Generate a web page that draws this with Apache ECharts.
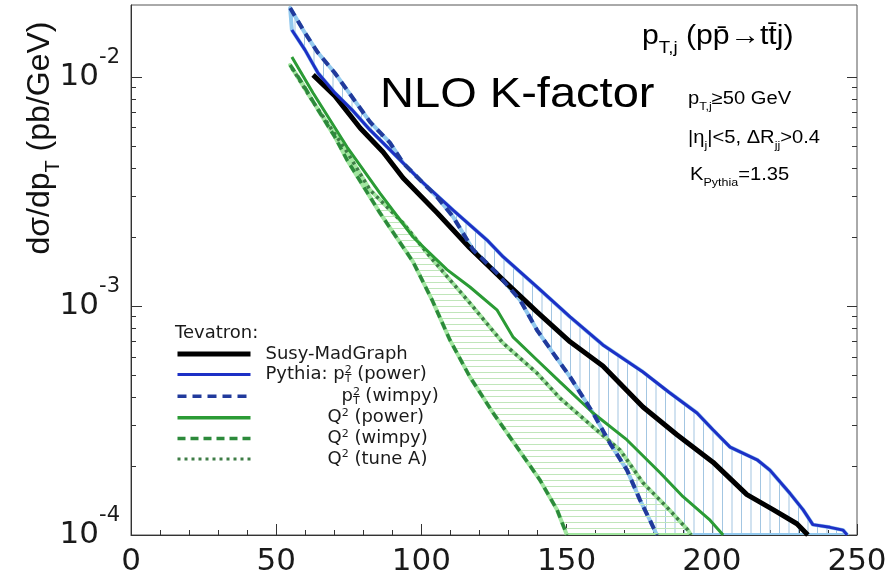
<!DOCTYPE html>
<html>
<head>
<meta charset="utf-8">
<script src="https://cdn.jsdelivr.net/npm/echarts@6/dist/echarts.min.js"></script>
<style>
  html, body { margin: 0; padding: 0; background: #fff; }
  #chart { width: 896px; height: 577px; }
</style>
</head>
<body>
<div id="chart"></div>
<script>
// jet pT spectrum, NLO K-factor comparison
const ptMad = [62.7, 70.2, 78.9, 86.8, 93.7, 105.4, 116.7, 128.1, 139.8, 151.2, 162.5, 176.3, 188.0, 200.4, 212.1, 221.1, 229.3, 233.1]
const sigMad = [0.0102, 0.00826, 0.00598, 0.0047, 0.00362, 0.00255, 0.00179, 0.0013, 0.000942, 0.000697, 0.000547, 0.000362, 0.000274, 0.000208, 0.00015, 0.000129, 0.000112, 0.0001]

const ptPyPow = [55.4, 59.9, 64.4, 70.2, 76.1, 82.3, 89.2, 99.5, 110.9, 122.6, 128.1, 139.8, 151.2, 162.5, 176.3, 185.6, 194.9, 200.4, 206.3, 215.6, 220.0, 226.9, 231.4, 234.8, 240.7, 245.2, 246.6]
const sigPyPow = [0.01603, 0.01312, 0.0104, 0.00851, 0.00718, 0.00587, 0.0048, 0.00355, 0.00262, 0.00194, 0.00164, 0.00121, 0.000895, 0.000676, 0.000515, 0.000417, 0.000341, 0.000288, 0.000242, 0.000213, 0.000192, 0.000152, 0.000129, 0.000111, 0.000108, 0.000105, 0.0001]

const ptPyWim = [54.8, 59.9, 64.4, 70.2, 76.1, 82.3, 89.2, 93.7, 105.4, 110.9, 117.8, 126.0, 134.0, 139.8, 145.3, 151.2, 159.1, 164.9, 170.8, 175.3, 178.7, 181.1]
const sigPyWim = [0.02, 0.01556, 0.01274, 0.0104, 0.00818, 0.00636, 0.00515, 0.00421, 0.00299, 0.00245, 0.00176, 0.00139, 0.00106, 0.000785, 0.000624, 0.00049, 0.000341, 0.000252, 0.000192, 0.000142, 0.000116, 0.0001]

const ptQPow = [55.4, 62.7, 74.4, 85.7, 97.1, 108.8, 116.7, 126.0, 131.5, 139.8, 147.7, 159.1, 170.8, 182.2, 190.1, 199.4, 203.9]
const sigQPow = [0.01222, 0.00851, 0.00494, 0.00311, 0.002, 0.00144, 0.00121, 0.000962, 0.000733, 0.000581, 0.000466, 0.000341, 0.00026, 0.000187, 0.000147, 0.000116, 0.0001]

const ptQWim = [54.8, 58.9, 64.4, 70.2, 74.4, 85.7, 97.1, 103.7, 109.8, 116.7, 124.7, 132.9, 140.8, 146.7, 150.1]
const sigQWim = [0.01127, 0.00942, 0.00718, 0.00547, 0.00434, 0.00255, 0.00156, 0.00106, 0.000711, 0.00049, 0.000341, 0.000242, 0.000174, 0.000129, 0.0001]

const ptQTune = [55.4, 62.7, 74.4, 82.3, 93.7, 103.0, 116.7, 128.1, 139.8, 147.7, 159.1, 168.4, 176.3, 184.6, 191.8, 192.8]
const sigQTune = [0.01094, 0.00778, 0.0047, 0.00321, 0.0023, 0.00164, 0.00103, 0.000689, 0.000509, 0.000396, 0.000296, 0.000235, 0.000169, 0.000132, 0.000105, 0.0001]

const yMajor = [1e-4, 1e-3, 1e-2]
const yMinor = [2e-4, 3e-4, 4e-4, 5e-4, 6e-4, 7e-4, 8e-4, 9e-4, 2e-3, 3e-3, 4e-3, 5e-3, 6e-3, 7e-3, 8e-3, 9e-3]
const yMin = 1e-4
const yMax = 0.0206

const LBL = 'DejaVu Sans'
const TXT = 'Liberation Sans, Arial, sans-serif'

function zip (xs, ys) {
  return xs.map((x, i) => [x, ys[i]])
}

// small canvas tiles used as hatch fills
function hatch (w, h, color, vertical) {
  let c = document.createElement('canvas')
  c.width = w
  c.height = h
  let g = c.getContext('2d')
  g.fillStyle = color
  if (vertical) {
    g.fillRect(0, 0, 1, h)
    g.fillRect(9.5, 0, 1, h)
  } else {
    g.fillRect(0, 0, w, 1)
  }
  return c
}

function band (upX, upY, loX, loY, tile, edge) {
  return {
    type: 'custom',
    silent: true,
    clip: true,
    z: 1,
    data: [[upX[0], upY[0]]],
    renderItem: function (params, api) {
      let pts = []
      upX.forEach((x, i) => pts.push(api.coord([x, upY[i]])))
      for (let i = loX.length - 1; i >= 0; i--) pts.push(api.coord([loX[i], loY[i]]))
      return {
        type: 'polygon',
        shape: { points: pts },
        style: { fill: { image: tile, repeat: 'repeat' }, stroke: edge, lineWidth: 4, lineJoin: 'round' }
      }
    }
  }
}

function curve (name, xs, ys, color, width, dash, z) {
  return {
    name: name,
    type: 'line',
    data: zip(xs, ys),
    symbol: 'none',
    z: z,
    lineStyle: { color: color, width: width, type: dash },
    itemStyle: { color: color },
    emphasis: { disabled: true }
  }
}

// legend rows: text (rich) and line width of the sample
const legendRows = [
  ['Susy-MadGraph', '{lead| }{t|Susy-MadGraph}', 5],
  ['Pythia: pT2 (power)', '{lead| }{t|Pythia: p}{sup|2}{sub|T}{t| (power)}', 3],
  ['pT2 (wimpy)', '{pad3| }{t|p}{sup|2}{sub|T}{t| (wimpy)}', 3.5],
  ['Q2 (power)', '{pad| }{t|Q}{sup2|2}{t| (power)}', 3.5],
  ['Q2 (wimpy)', '{pad| }{t|Q}{sup2|2}{t| (wimpy)}', 3.5],
  ['Q2 (tune A)', '{pad| }{t|Q}{sup2|2}{t| (tune A)}', 3]
]
const legendText = {}
legendRows.forEach(r => { legendText[r[0]] = r[1] })

function label (x, y, text, size, extra) {
  return {
    type: 'text',
    x: x,
    y: y,
    scaleX: 1.12,
    style: Object.assign({
      text: text,
      fontFamily: TXT,
      fontSize: size,
      fill: '#000',
      verticalAlign: 'middle',
      align: 'left'
    }, extra || {})
  }
}

function subRich (size) {
  return {
    m: { fontFamily: TXT, fontSize: size, lineHeight: size * 1.5 },
    sub: { fontFamily: TXT, fontSize: size * 0.62, lineHeight: size * 0.62, verticalAlign: 'bottom' },
    sup: { fontFamily: TXT, fontSize: size * 0.62, lineHeight: size * 0.62, verticalAlign: 'top' }
  }
}

const chart = echarts.init(document.getElementById('chart'))
const logTop = Math.log10(yMax)
const tickColor = '#333'

chart.setOption({
  backgroundColor: '#fff',
  animation: false,
  grid: {
    left: 131, right: 39, top: 5, bottom: 42,
    show: true, borderColor: '#555', borderWidth: 1,
    outerBoundsMode: 'none'
  },
  xAxis: {
    type: 'value', min: 0, max: 250, interval: 50,
    axisLine: { lineStyle: { color: tickColor } },
    axisTick: { inside: true, length: 11, lineStyle: { color: tickColor } },
    minorTick: { show: true, splitNumber: 5, length: 5, lineStyle: { color: tickColor } },
    splitLine: { show: false },
    axisLabel: { fontFamily: LBL, fontSize: 31, color: '#1a1a1a', margin: 11 }
  },
  yAxis: [
    { type: 'log', min: yMin, max: yMax, show: false },
    {
      type: 'value', min: -4, max: logTop, position: 'left',
      axisLine: { show: true, lineStyle: { color: tickColor } },
      axisTick: { inside: true, length: 11, customValues: yMajor.map(Math.log10), lineStyle: { color: tickColor } },
      splitLine: { show: false },
      axisLabel: {
        customValues: yMajor.map(Math.log10), margin: 11,
        formatter: v => '{b|10}{s|' + Math.round(v) + '}',
        rich: {
          b: { fontFamily: LBL, fontSize: 31, lineHeight: 60, color: '#1a1a1a' },
          s: { fontFamily: LBL, fontSize: 21, lineHeight: 8, verticalAlign: 'top', color: '#1a1a1a' }
        }
      }
    },
    {
      type: 'value', min: -4, max: logTop, position: 'left',
      axisLine: { show: false },
      axisTick: { inside: true, length: 5, customValues: yMinor.map(Math.log10), lineStyle: { color: tickColor } },
      splitLine: { show: false },
      axisLabel: { show: false }
    },
    {
      type: 'value', min: -4, max: logTop, position: 'right',
      axisLine: { show: false },
      axisTick: { inside: true, length: 10, customValues: yMajor.map(Math.log10), lineStyle: { color: tickColor } },
      splitLine: { show: false },
      axisLabel: { show: false }
    },
    {
      type: 'value', min: -4, max: logTop, position: 'right',
      axisLine: { show: false },
      axisTick: { inside: true, length: 5, customValues: yMinor.map(Math.log10), lineStyle: { color: tickColor } },
      splitLine: { show: false },
      axisLabel: { show: false }
    }
  ],
  legend: {
    orient: 'vertical', left: 175, top: 345, padding: 0,
    itemWidth: 73, itemHeight: 20, itemGap: 1.6,
    selectedMode: false,
    itemStyle: { opacity: 0 },
    data: legendRows.map(r => ({ name: r[0], lineStyle: { width: r[2] } })),
    formatter: name => legendText[name],
    textStyle: {
      fontFamily: LBL, fontSize: 18, color: '#1a1a1a',
      rich: {
        t: { fontFamily: LBL, fontSize: 18, lineHeight: 20 },
        lead: { width: 10, lineHeight: 20 },
        pad: { width: 72, lineHeight: 20 },
        pad3: { width: 86, lineHeight: 20 },
        sup: { fontFamily: LBL, fontSize: 11, lineHeight: 12, verticalAlign: 'top', padding: [0, -7, 0, 0] },
        sup2: { fontFamily: LBL, fontSize: 11, lineHeight: 12, verticalAlign: 'top' },
        sub: { fontFamily: LBL, fontSize: 11, lineHeight: 12, verticalAlign: 'bottom' }
      }
    }
  },
  graphic: [
    {
      type: 'text', x: 40, y: 138, rotation: Math.PI / 2,
      style: {
        text: '{m|d\u03c3/dp}{sub|T}{m| (pb/GeV)}',
        rich: subRich(32), fill: '#111', align: 'center', verticalAlign: 'middle'
      }
    },
    label(380, 95, 'NLO K-factor', 42),
    label(642, 37, '{m|p}{sub|T,j}{m| (pp\u0304\u2192tt\u0304j)}', 27, { rich: subRich(27) }),
    label(688, 99, '{m|p}{sub|T,j}{m|\u226550 GeV}', 18, { rich: subRich(18) }),
    label(688, 138, '{m||\u03b7}{sub|j}{m||<5, \u0394R}{sub|jj}{m|>0.4}', 18, { rich: subRich(18) }),
    label(690, 175, '{m|K}{sub|Pythia}{m|=1.35}', 18, { rich: subRich(18) }),
    {
      type: 'text', x: 175, y: 333,
      style: { text: 'Tevatron:', fontFamily: LBL, fontSize: 18, fill: '#1a1a1a', verticalAlign: 'middle' }
    }
  ],
  series: [
    band(ptPyPow, sigPyPow, ptPyWim, sigPyWim, hatch(19, 4, '#a3c6e2', true), '#93c9ee'),
    band(ptQTune, sigQTune, ptQWim, sigQWim, hatch(4, 6, '#c0e6ba', false), '#a2e6a0'),
    curve('Q2 (tune A)', ptQTune, sigQTune, '#3e7d46', 3.5, [3, 4], 3),
    curve('Q2 (wimpy)', ptQWim, sigQWim, '#2c8a3b', 3.5, [8, 5], 3),
    curve('Q2 (power)', ptQPow, sigQPow, '#2b9b35', 3, 'solid', 3),
    curve('Susy-MadGraph', ptMad, sigMad, '#000', 5, 'solid', 4),
    curve('Pythia: pT2 (power)', ptPyPow, sigPyPow, '#1d30c6', 3, 'solid', 5),
    curve('pT2 (wimpy)', ptPyWim, sigPyWim, '#213a9c', 4, [9, 6], 5)
  ]
})
</script>
</body>
</html>
